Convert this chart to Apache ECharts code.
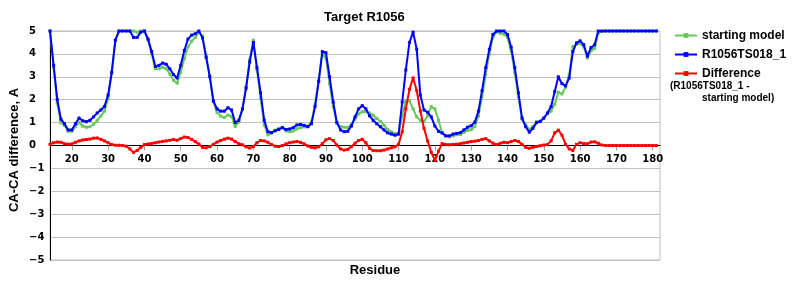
<!DOCTYPE html>
<html>
<head>
<meta charset="utf-8">
<script src="https://cdn.jsdelivr.net/npm/echarts@6/dist/echarts.min.js"></script>
<style>html,body{margin:0;padding:0;background:#fff}#c{width:800px;height:300px}</style>
</head>
<body>
<div id="c"></div>
<script>
// Residue numbers 14..182 (category axis)
const residues = [];
for (let r = 14; r <= 182; r++) residues.push(String(r));

const tickLabels = ['20','30','40','50','60','70','80','90','100','110','120','130','140','150','160','170','180'];

// starting model, residues 14..181 (182 empty)
const startingModel = [
  5.0, 3.4, 1.85, 1.0, 0.88, 0.62, 0.62, 0.82, 1.0, 0.85,
  0.8, 0.82, 0.93, 1.1, 1.28, 1.5, 2.05, 3.15, 4.6, 5,
  5, 5, 5, 5, 4.95, 5, 5, 4.6, 4.0, 3.35,
  3.35, 3.42, 3.35, 3.12, 2.85, 2.72, 3.2, 3.8, 4.3, 4.55,
  4.72, 4.95, 4.78, 3.95, 3.05, 1.9, 1.45, 1.28, 1.22, 1.33,
  1.27, 0.83, 1.02, 1.57, 2.56, 3.76, 4.6, 3.3, 2.08, 0.9,
  0.46, 0.53, 0.67, 0.75, 0.78, 0.63, 0.6, 0.63, 0.73, 0.78,
  0.81, 0.84, 1.03, 1.8, 2.86, 4.02, 3.8, 2.7, 1.68, 0.98,
  0.83, 0.8, 0.79, 0.9, 1.15, 1.38, 1.47, 1.48, 1.42, 1.32,
  1.18, 1.05, 0.88, 0.7, 0.6, 0.52, 0.5, 1.3, 1.95, 1.95,
  1.6, 1.25, 1.1, 1.05, 1.3, 1.7, 1.6, 1.1, 0.55, 0.42,
  0.38, 0.42, 0.47, 0.48, 0.57, 0.66, 0.69, 0.83, 1.28, 2.13,
  3.1, 4.0, 4.75, 4.96, 4.9, 4.86, 4.73, 4.13, 3.18, 2.12,
  1.15, 0.9, 0.7, 0.83, 1.04, 1.06, 1.18, 1.38, 1.5, 1.8,
  2.33, 2.25, 2.55, 3.1, 4.32, 4.43, 4.45, 4.31, 3.82, 4.13,
  4.24, 4.9, 4.98, 5, 5, 5, 5, 5, 5, 5,
  5, 5, 5, 5, 5, 5, 5, 5,
  null
];

// R1056TS018_1, residues 14..181
const model = [
  5.0, 3.5, 2.0, 1.15, 0.95, 0.68, 0.68, 0.95, 1.2, 1.08,
  1.04, 1.1, 1.25, 1.42, 1.55, 1.7, 2.2, 3.2, 4.6, 5,
  5, 5, 5, 4.72, 4.72, 4.95, 5, 4.65, 4.1, 3.45,
  3.5, 3.6, 3.55, 3.35, 3.1, 2.95, 3.5, 4.15, 4.65, 4.82,
  4.88, 5, 4.7, 3.85, 3.0, 1.95, 1.6, 1.5, 1.5, 1.65,
  1.55, 1.0, 1.1, 1.6, 2.5, 3.65, 4.5, 3.4, 2.3, 1.1,
  0.6, 0.57, 0.64, 0.7, 0.78, 0.7, 0.72, 0.78, 0.9, 0.92,
  0.88, 0.82, 0.95, 1.7, 2.8, 4.1, 4.05, 3.0, 1.9, 1.0,
  0.68, 0.6, 0.62, 0.85, 1.25, 1.6, 1.74, 1.6, 1.3, 1.1,
  0.95, 0.82, 0.68, 0.55, 0.5, 0.45, 0.5, 1.9, 3.3, 4.5,
  4.95, 4.2, 2.2, 1.55, 1.45, 1.25, 0.85, 0.62, 0.55, 0.42,
  0.42, 0.5, 0.53, 0.56, 0.68, 0.8, 0.86, 1.02, 1.5, 2.4,
  3.4, 4.2, 4.85, 5, 5, 5, 4.85, 4.3, 3.4, 2.3,
  1.2, 0.82, 0.58, 0.75, 1.0, 1.05, 1.2, 1.42, 1.7, 2.35,
  3.0, 2.7, 2.6, 2.95, 4.1, 4.48, 4.57, 4.4, 3.9, 4.28,
  4.4, 5, 5, 5, 5, 5, 5, 5, 5, 5,
  5, 5, 5, 5, 5, 5, 5, 5,
  null
];

// Difference (R1056TS018_1 - starting model), residues 14..181
const difference = [
  0.05, 0.12, 0.15, 0.14, 0.08, 0.06, 0.07, 0.14, 0.2, 0.24,
  0.26, 0.28, 0.32, 0.33, 0.27, 0.2, 0.12, 0.04, 0.01, 0.01,
  0, -0.03, -0.15, -0.3, -0.22, -0.08, 0.04, 0.07, 0.09, 0.12,
  0.15, 0.18, 0.2, 0.23, 0.26, 0.23, 0.3, 0.37, 0.35, 0.27,
  0.17, 0.06, -0.08, -0.1, -0.05, 0.05, 0.15, 0.22, 0.28, 0.32,
  0.28, 0.17, 0.08, 0.03, -0.06, -0.11, -0.05, 0.12, 0.22, 0.2,
  0.14, 0.04, -0.03, -0.05, 0, 0.07, 0.12, 0.15, 0.17, 0.14,
  0.07, -0.02, -0.08, -0.1, -0.06, 0.08, 0.25, 0.3, 0.22, 0.02,
  -0.15, -0.2, -0.17, -0.05, 0.1, 0.22, 0.27, 0.12, -0.12, -0.22,
  -0.23, -0.23, -0.2, -0.15, -0.1, -0.06, 0.05, 0.6, 1.6, 2.45,
  2.95, 2.4, 1.5, 0.75, 0.2, -0.3, -0.65, -0.25, 0.08, 0.05,
  0.03, 0.05, 0.06, 0.08, 0.11, 0.14, 0.17, 0.19, 0.22, 0.27,
  0.3, 0.2, 0.1, 0.04, 0.1, 0.14, 0.12, 0.17, 0.22, 0.18,
  0.05, -0.08, -0.12, -0.08, -0.04, -0.01, 0.02, 0.04, 0.2, 0.55,
  0.67, 0.45, 0.05, -0.15, -0.22, 0.05, 0.12, 0.09, 0.08, 0.15,
  0.16, 0.1, 0.02, 0, 0, 0, 0, 0, 0, 0,
  0, 0, 0, 0, 0, 0, 0, 0,
  null
];

const showTick = (idx, val) => tickLabels.indexOf(String(val)) >= 0;
const boldSans = 'Liberation Sans';
const labelFont = { fontFamily: 'DejaVu Sans', fontWeight: 'bold', fontSize: 10, color: '#000' };

const GRID_TOP = 31, GRID_H = 229;

const chart = echarts.init(document.getElementById('c'), null, { renderer: 'canvas' });

function lineSeries(name, data, color, z) {
  return {
    name: name, type: 'line', data: data, z: z,
    symbol: 'rect', symbolSize: 3, showSymbol: true, showAllSymbol: true,
    lineStyle: { color: color, width: 2 },
    itemStyle: { color: color },
    connectNulls: false,
    emphasis: { disabled: true }
  };
}

chart.setOption({
  animation: false,
  title: {
    text: 'Target R1056', left: 319, top: 6,
    textStyle: { fontFamily: boldSans, fontWeight: 'bold', fontSize: 13, color: '#000' }
  },
  legend: {
    orient: 'vertical', left: 669, top: 24, itemGap: 6, itemWidth: 22, itemHeight: 6,
    data: ['starting model', 'R1056TS018_1', 'Difference'],
    textStyle: { fontFamily: boldSans, fontWeight: 'bold', fontSize: 12, color: '#000', lineHeight: 13 }
  },
  grid: { left: 50, right: 140, top: GRID_TOP, height: GRID_H, show: true, borderColor: '#c0c0c0', borderWidth: 1, containLabel: false },
  xAxis: {
    type: 'category', data: residues, boundaryGap: false,
    position: 'bottom', offset: -GRID_H / 2,
    axisLine: { onZero: false, lineStyle: { color: '#000', width: 1 } },
    axisTick: { show: true, interval: showTick, length: 5, inside: false, lineStyle: { color: '#a0a0a0' } },
    axisLabel: Object.assign({ interval: showTick, margin: 9 }, labelFont),
    splitLine: { show: false }
  },
  yAxis: {
    type: 'value', min: -5, max: 5, interval: 1,
    axisLine: { show: true, lineStyle: { color: '#000', width: 1 } },
    axisTick: { show: false },
    splitLine: { show: true, lineStyle: { color: '#c0c0c0', width: 1 } },
    axisLabel: Object.assign({ align: 'left', margin: 21, formatter: v => (v < 0 ? '\u2212' + (-v) : String(v)) }, labelFont)
  },
  graphic: [
    { type: 'text', x: 670, y: 86, style: { text: '(R1056TS018_1 -', font: 'bold 10px "Liberation Sans"', fill: '#000', verticalAlign: 'middle', textVerticalAlign: 'middle' } },
    { type: 'text', x: 702, y: 98, style: { text: 'starting model)', font: 'bold 10px "Liberation Sans"', fill: '#000', verticalAlign: 'middle', textVerticalAlign: 'middle' } },
    { type: 'text', x: 375, y: 270, style: { text: 'Residue', font: 'bold 13px "Liberation Sans"', fill: '#000', align: 'center', textAlign: 'center', verticalAlign: 'middle', textVerticalAlign: 'middle' } },
    { type: 'text', x: 14, y: 150, rotation: Math.PI / 2, style: { text: 'CA-CA difference, A', font: 'bold 13px "Liberation Sans"', fill: '#000', align: 'center', textAlign: 'center', verticalAlign: 'middle', textVerticalAlign: 'middle' } }
  ],
  series: [
    lineSeries('starting model', startingModel, '#66c95a', 2),
    lineSeries('R1056TS018_1', model, '#0000ff', 3),
    lineSeries('Difference', difference, '#ff0000', 4)
  ]
});
</script>
</body>
</html>
